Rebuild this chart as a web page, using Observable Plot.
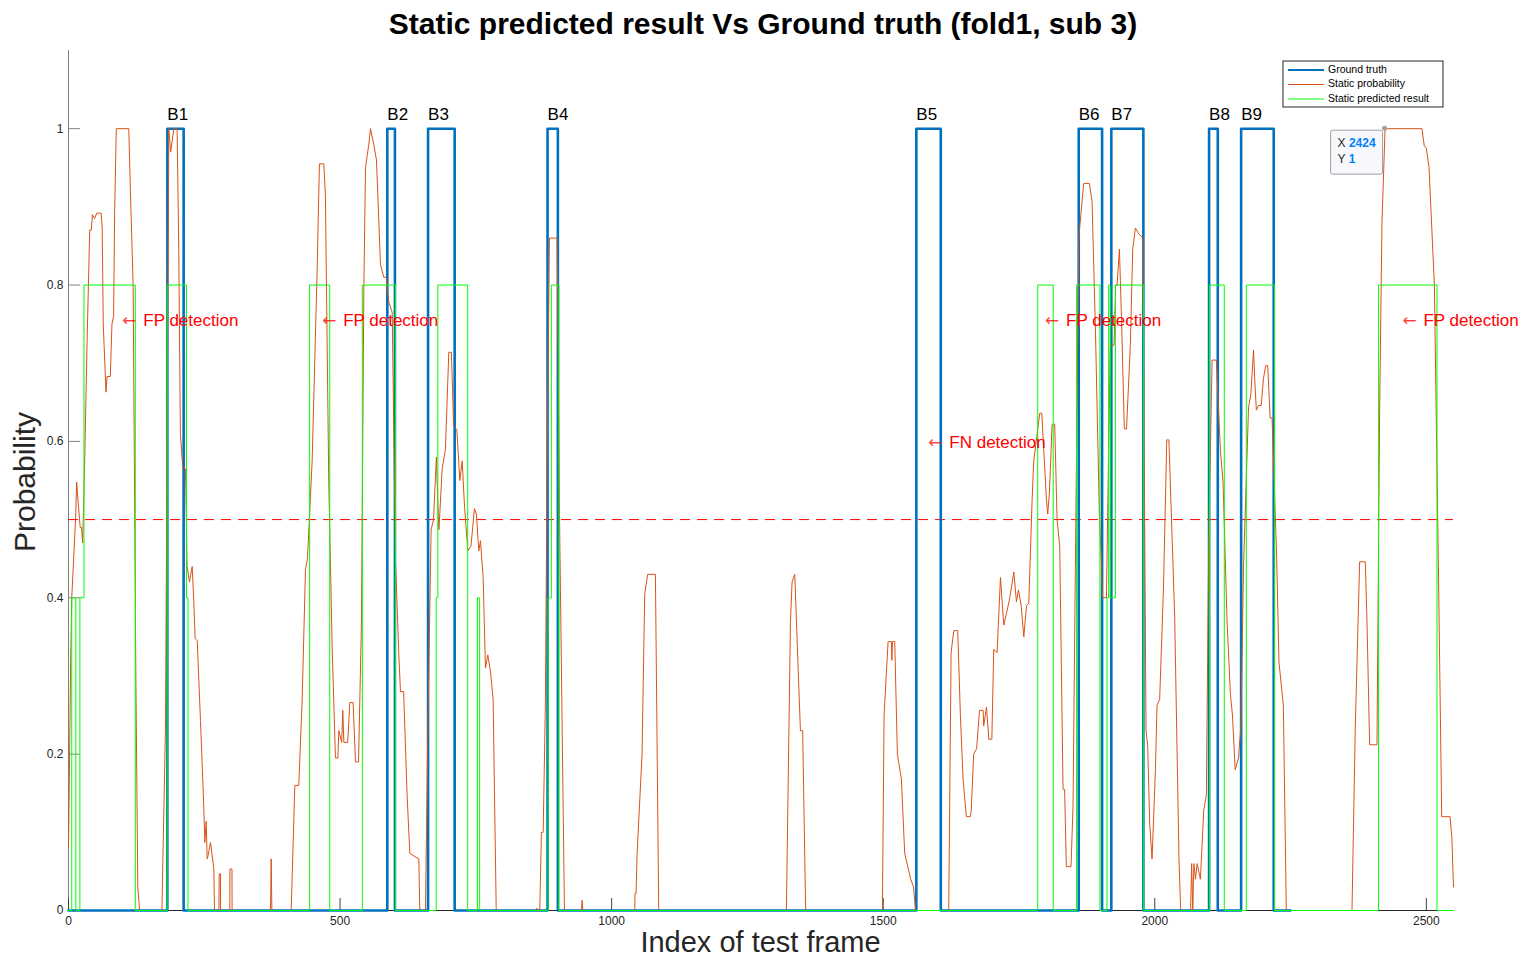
<!DOCTYPE html>
<html>
<head>
<meta charset="utf-8">
<script src="https://cdn.jsdelivr.net/npm/d3@7"></script>
<script src="https://cdn.jsdelivr.net/npm/@observablehq/plot@0.6"></script>
<style>
  html, body { margin: 0; padding: 0; background: #ffffff; }
  #chart { width: 1523px; height: 962px; }
</style>
</head>
<body>
<div id="chart"></div>
<script>
// ---------- data ----------
const titleText = "Static predicted result Vs Ground truth (fold1, sub 3)";
const xLabel = "Index of test frame";
const yLabel = "Probability";

const xTicks = [0, 500, 1000, 1500, 2000, 2500];
const yTicks = [0, 0.2, 0.4, 0.6, 0.8, 1];
const threshold = 0.5;

// Ground truth (step series: value holds from x until next x)
const gtX = [0, 182, 212, 587, 601, 662, 711, 882, 901, 1561, 1606, 1860, 1903, 1920, 1979, 2100, 2116, 2159, 2219, 2250];
const gtY = [0, 1,   0,   1,   0,   1,   0,   1,   0,   1,    0,    1,    0,    1,    0,    1,    0,    1,    0,    0];

// Ground-truth block labels (placed at block start)
const blockNames = ["B1", "B2", "B3", "B4", "B5", "B6", "B7", "B8", "B9"];
const blockStart = [182, 587, 662, 882, 1561, 1860, 1920, 2100, 2159];
const blockLabelY = 1.018;

// Static predicted result (step series)
const predX = [0, 6, 13.5, 21, 28.5, 123, 181.6, 217.2, 220, 444, 481, 541, 602, 677, 680, 735, 753, 757, 883, 889, 903, 1784.5, 1813, 1856, 1899, 1912, 1915, 1918, 1927.5, 1979.5, 2101, 2128, 2168.5, 2220.5, 2412, 2519.6, 2550];
const predY = [0, 0.4, 0, 0.4, 0.8, 0, 0.8, 0.4, 0, 0.8, 0, 0.8, 0, 0.4, 0.8, 0, 0.4, 0, 0.4, 0.8, 0, 0.8, 0, 0.8, 0, 0.4, 0.8, 0.4, 0.8, 0, 0.8, 0, 0.8, 0, 0.8, 0, 0];

// Static probability
const probX = [
  0, 4, 6, 13, 15, 18, 21.5, 24, 26, 30, 34, 39, 42, 44, 48, 52, 60, 62, 64, 69, 71, 77, 80, 83, 85, 88, 111, 114, 119, 124, 127.6, 131,
  172, 178.6, 184.7, 188, 194, 200, 203, 206, 210.5, 215.4, 218.4, 222.7, 227.7, 230.7, 233.2, 237, 243, 249, 251, 253.5, 255.3, 257, 261.4, 267.6, 268.8,
  277, 277.4, 279.8, 280, 297, 297.2, 301, 301.2, 372, 373.1, 374.5,
  410, 416.7, 424, 430.2, 436.3, 440, 448.6, 457.8, 462, 470, 473, 479.2, 485.4, 491.5, 496, 497.7, 503, 505, 507, 514, 518, 524, 528.4, 534,
  539.4, 543.7, 546.8, 552.9, 556, 562, 567, 574.4, 580.5, 585, 589.7, 596, 602, 608, 611.2, 617, 623.4, 628.4, 645, 646.8,
  657.2, 662.1, 667.6, 672, 677.4, 680, 682, 688, 694, 700.2, 705, 709.1, 715, 720.5, 724.8, 729.1, 735.2, 741, 747.4, 751, 755.4, 758.5,
  763.4, 767.7, 772, 777, 781.8, 787.5,
  860, 862, 866, 867.7, 870.7, 874, 878.1, 881.2, 885.5, 899.6, 904, 913.1,
  944.5, 945.7, 947,
  1042.6, 1043, 1045, 1046.9, 1056, 1060.9, 1066.4, 1080.6, 1086.7,
  1321.8, 1324.3, 1329.2, 1332.2, 1337.2, 1343.3, 1347.6, 1351.7, 1357.2,
  1498.5, 1501.6, 1509, 1515, 1516, 1517, 1521.2, 1526.1, 1533.5, 1539.6, 1550.6, 1556, 1559.3,
  1620.6, 1625, 1630, 1637.2, 1642.1, 1647, 1653.1, 1660.5, 1662, 1666.6, 1672, 1677.3, 1684, 1685, 1690.2, 1694.5, 1700, 1703.5, 1709.7,
  1715.9, 1722, 1727, 1733.1, 1740.5, 1745.3, 1749, 1754, 1758.9, 1763.8, 1768, 1774.1, 1777.1, 1788.2, 1792, 1796.7, 1800.4, 1802.9,
  1806, 1811, 1815.8, 1820.1, 1825, 1831.1, 1834, 1837.2, 1845.8, 1849.5, 1853.8, 1860, 1866.1, 1869.2, 1879.6, 1884.5, 1890.7, 1898,
  1901.7, 1904, 1911, 1918, 1925, 1928, 1930.6, 1934.9, 1938.6, 1944, 1948, 1955.1, 1959.4, 1964.3, 1970, 1978, 1983.9, 1987, 1990.7,
  1995, 2001.2, 2004.2, 2009, 2016, 2022.1, 2026, 2036.6, 2044.6, 2047.7,
  2066, 2067.9, 2070, 2072, 2075, 2078, 2084, 2090, 2095, 2099.3, 2105.5, 2113.4, 2120.8, 2125.7, 2133.1, 2139.2, 2143, 2148, 2154.2,
  2158.5, 2163.4, 2172.6, 2176.9, 2181.8, 2184, 2187, 2191, 2196, 2200, 2204.3, 2208, 2212.3, 2216, 2224.4, 2228.7, 2236.7, 2242.2,
  2363.1, 2369.2, 2377.2, 2387.6, 2390.7, 2395.6, 2409.1, 2414, 2418.3, 2424, 2491.9, 2496.2, 2500, 2505, 2514.8, 2522.2, 2528.3,
  2543.7, 2547, 2550
];
const probY = [
  0.08, 0.32, 0.40, 0.50, 0.548, 0.52, 0.49, 0.49, 0.47, 0.58, 0.72, 0.87, 0.87, 0.89, 0.885, 0.892, 0.892, 0.873, 0.75, 0.663, 0.683, 0.683, 0.75, 0.76, 0.894, 1, 1, 0.92, 0.8, 0.3, 0.03, 0,
  0, 0.236, 1, 0.97, 1, 1, 0.846, 0.61, 0.565, 0.565, 0.44, 0.42, 0.44, 0.395, 0.348, 0.345, 0.243, 0.134, 0.087, 0.114, 0.066, 0.07, 0.087, 0.053, 0,
  0, 0.047, 0.047, 0, 0, 0.053, 0.053, 0, 0, 0.066, 0,
  0, 0.16, 0.16, 0.27, 0.436, 0.45, 0.575, 0.82, 0.955, 0.955, 0.915, 0.548, 0.338, 0.195, 0.195, 0.23, 0.215, 0.256, 0.215, 0.215, 0.266, 0.266, 0.19, 0.19,
  0.37, 0.79, 0.95, 0.98, 1, 0.98, 0.96, 0.826, 0.81, 0.81, 0.778, 0.765, 0.45, 0.33, 0.28, 0.28, 0.148, 0.073, 0.066, 0,
  0, 0.256, 0.487, 0.5, 0.58, 0.52, 0.487, 0.565, 0.59, 0.714, 0.714, 0.62, 0.615, 0.55, 0.575, 0.517, 0.46, 0.466, 0.514, 0.507, 0.46, 0.473,
  0.426, 0.31, 0.327, 0.305, 0.27, 0,
  0, 0.003, 0, 0, 0.1, 0.1, 0.27, 0.575, 0.86, 0.86, 0.507, 0,
  0, 0.013, 0,
  0, 0.022, 0.022, 0.073, 0.2, 0.405, 0.43, 0.43, 0,
  0, 0.127, 0.37, 0.42, 0.43, 0.31, 0.23, 0.23, 0,
  0, 0.25, 0.344, 0.344, 0.32, 0.344, 0.344, 0.2, 0.168, 0.073, 0.04, 0.03, 0,
  0, 0.33, 0.358, 0.358, 0.25, 0.168, 0.12, 0.12, 0.127, 0.2, 0.207, 0.256, 0.256, 0.236, 0.26, 0.219, 0.219, 0.334, 0.33,
  0.426, 0.365, 0.38, 0.4, 0.433, 0.395, 0.41, 0.39, 0.35, 0.39, 0.393, 0.524, 0.575, 0.636, 0.636, 0.575, 0.527, 0.507,
  0.534, 0.622, 0.622, 0.5, 0.466, 0.155, 0.155, 0.056, 0.056, 0.134, 0.44, 0.86, 0.907, 0.93, 0.93, 0.907, 0.744, 0.507,
  0.446, 0.4, 0.4, 0.723, 0.723, 0.8, 0.8, 0.846, 0.76, 0.616, 0.616, 0.724, 0.846, 0.873, 0.866, 0.86, 0.23, 0.21, 0.11,
  0.066, 0.18, 0.263, 0.27, 0.412, 0.602, 0.602, 0.378, 0.066, 0,
  0, 0.06, 0, 0.06, 0.04, 0.06, 0.04, 0.127, 0.148, 0.473, 0.704, 0.704, 0.588, 0.548, 0.37, 0.277, 0.25, 0.18, 0.195,
  0.236, 0.44, 0.643, 0.66, 0.717, 0.68, 0.64, 0.646, 0.646, 0.68, 0.697, 0.697, 0.63, 0.63, 0.453, 0.317, 0.263, 0,
  0, 0.236, 0.446, 0.446, 0.37, 0.212, 0.212, 0.64, 0.88, 1, 1, 0.978, 0.975, 0.95, 0.8, 0.44, 0.12,
  0.12, 0.093, 0.03
];

// Annotations
const annArrow = "\u2190";
const annText = ["FP detection", "FP detection", "FP detection", "FP detection", "FN detection"];
const annX = [99, 467, 1798, 2456, 1583];
const annY = [0.755, 0.755, 0.755, 0.755, 0.598];

// Data tip
const tipX = 2424;
const tipY = 1;

const seriesNames = ["Ground truth", "Static probability", "Static predicted result"];
const seriesColors = ["#0072BD", "#D95319", "#00FF00"];

// ---------- build tables ----------
const gtData = gtX.map((x, i) => ({x, y: gtY[i]}));
const predData = predX.map((x, i) => ({x, y: predY[i]}));
const probData = probX.map((x, i) => ({x, y: probY[i]}));
const blockData = blockNames.map((name, i) => ({name, x: blockStart[i], y: blockLabelY}));
const annData = annText.map((t, i) => ({t, x: annX[i], y: annY[i]}));

const W = 1523, H = 962;
const mT = 50, mR = 70, mB = 52, mL = 68;
const frameW = W - mL - mR, frameH = H - mT - mB;
const tickLen = 12;
const font = "'Liberation Sans', Arial, Helvetica, sans-serif";

const plot = Plot.plot({
  width: W, height: H,
  marginTop: mT, marginRight: mR, marginBottom: mB, marginLeft: mL,
  x: {domain: [0, 2550]},
  y: {domain: [0, 1.1]},
  style: {fontFamily: font, background: "#ffffff", color: "#262626"},
  marks: [
    Plot.ruleX([0], {stroke: "#808080", strokeWidth: 1}),
    Plot.ruleY([0], {stroke: "#262626", strokeWidth: 1}),
    Plot.tickX(xTicks, {x: d => d, insetTop: frameH - tickLen, stroke: "#404040"}),
    Plot.tickY(yTicks, {y: d => d, insetRight: frameW - tickLen, stroke: "#808080"}),
    Plot.ruleY([threshold], {stroke: "#ff0000", strokeDasharray: "10,7", strokeWidth: 1}),
    Plot.line(gtData, {x: "x", y: "y", curve: "step-after", stroke: seriesColors[0], strokeWidth: 2.6}),
    Plot.line(probData, {x: "x", y: "y", stroke: seriesColors[1], strokeWidth: 1}),
    Plot.line(predData, {x: "x", y: "y", curve: "step-after", stroke: seriesColors[2], strokeWidth: 1}),
    Plot.text(blockData, {x: "x", y: "y", text: "name", textAnchor: "start", lineAnchor: "middle", fontSize: 17, fill: "#000"}),
    Plot.text(annData, {x: "x", y: "y", text: () => annArrow, textAnchor: "start", lineAnchor: "middle", fontSize: 17, fontFamily: "DejaVu Sans", fill: "#ff0000", fillOpacity: 0.75}),
    Plot.text(annData, {x: "x", y: "y", text: "t", dx: 21, textAnchor: "start", lineAnchor: "middle", fontSize: 17, fill: "#ff0000"}),
    Plot.axisX(xTicks, {anchor: "bottom", tickSize: 0, tickPadding: 6, fontSize: 12, label: null, tickFormat: d => String(d)}),
    Plot.axisY(yTicks, {anchor: "left", tickSize: 0, tickPadding: 5, fontSize: 12, label: null, tickFormat: d => String(d)})
  ]
});

document.getElementById("chart").appendChild(plot);

const svg = d3.select(plot);
const sx = plot.scale("x"), sy = plot.scale("y");

// Title
svg.append("text")
  .attr("x", 763).attr("y", 26)
  .attr("text-anchor", "middle").attr("dominant-baseline", "middle")
  .attr("font-family", font).attr("font-size", 30).attr("font-weight", "bold").attr("fill", "#000")
  .text(titleText);

// Axis labels
svg.append("text")
  .attr("x", mL + frameW / 2).attr("y", 944)
  .attr("text-anchor", "middle").attr("dominant-baseline", "middle")
  .attr("font-family", font).attr("font-size", 29).attr("fill", "#262626")
  .text(xLabel);
svg.append("text")
  .attr("transform", `translate(27, ${mT + frameH / 2 + 2}) rotate(-90)`)
  .attr("text-anchor", "middle").attr("dominant-baseline", "middle")
  .attr("font-family", font).attr("font-size", 30).attr("fill", "#262626")
  .text(yLabel);

// Legend
const lg = svg.append("g").attr("transform", "translate(1283, 61)");
lg.append("rect").attr("width", 160).attr("height", 46).attr("fill", "#fff").attr("stroke", "#262626").attr("stroke-width", 1);
seriesNames.forEach((name, i) => {
  const yy = 9 + i * 14.5;
  lg.append("line").attr("x1", 5).attr("x2", 41).attr("y1", yy).attr("y2", yy)
    .attr("stroke", seriesColors[i]).attr("stroke-width", i === 0 ? 2 : 1);
  lg.append("text").attr("x", 45).attr("y", yy).attr("dominant-baseline", "middle").attr("text-anchor", "start")
    .attr("font-family", font).attr("font-size", 10.5).attr("fill", "#000").text(name);
});

// Data tip
const px = sx.apply(tipX), py = sy.apply(tipY);
const tip = svg.append("g");
tip.append("rect").attr("x", px - 54).attr("y", py + 2).attr("width", 52).attr("height", 44).attr("rx", 2)
  .attr("fill", "#f8f8fc").attr("stroke", "#a0a0a0").attr("stroke-width", 1);
tip.append("circle").attr("cx", px).attr("cy", py).attr("r", 2.5).attr("fill", "#a0a0a0");
const t1 = tip.append("text").attr("x", px - 47).attr("y", py + 16).attr("dominant-baseline", "middle").attr("text-anchor", "start")
  .attr("font-family", font).attr("font-size", 12);
t1.append("tspan").attr("fill", "#262626").text("X ");
t1.append("tspan").attr("fill", "#0080ff").attr("font-weight", "bold").text(String(tipX));
const t2 = tip.append("text").attr("x", px - 47).attr("y", py + 32).attr("dominant-baseline", "middle").attr("text-anchor", "start")
  .attr("font-family", font).attr("font-size", 12);
t2.append("tspan").attr("fill", "#262626").text("Y ");
t2.append("tspan").attr("fill", "#0080ff").attr("font-weight", "bold").text(String(tipY));
</script>
</body>
</html>
